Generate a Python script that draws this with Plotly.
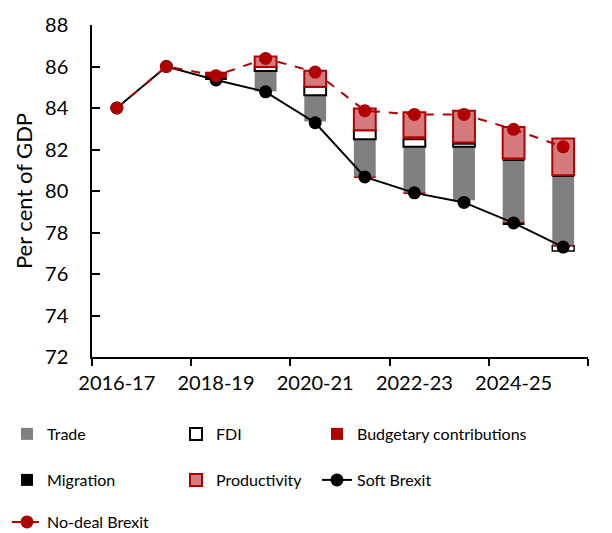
import plotly.graph_objects as go

years = ["2016-17", "2017-18", "2018-19", "2019-20", "2020-21",
         "2021-22", "2022-23", "2023-24", "2024-25", "2025-26"]
label_years = ["2016-17", "2018-19", "2020-21", "2022-23", "2024-25"]

soft_brexit = [84.0, 86.0, 85.35, 84.78, 83.29, 80.68, 79.91, 79.45, 78.46, 77.30]
no_deal = [84.0, 86.0, 85.56, 86.39, 85.73, 83.87, 83.69, 83.69, 82.97, 82.13]

# stacked decomposition (bottom of bar, then segment thicknesses in stack order)
bar_base = [0, 0, 85.35, 84.80, 83.35, 80.64, 79.88, 79.56, 78.38, 77.11]
fdi_low = [0, 0, 0, 0, 0, 0, 0, 0, 0, 0.25]
migration_low = [0, 0, 0, 0, 0, 0, 0, 0, 0.08, 0]
budget_low = [0, 0, 0, 0, 0, 0.05, 0.05, 0, 0.05, 0.04]
trade = [0, 0, 0, 0.98, 1.27, 1.80, 2.20, 2.57, 2.98, 3.30]
fdi = [0, 0, 0, 0.20, 0.40, 0.44, 0.36, 0.15, 0, 0]
migration = [0, 0, 0.10, 0, 0, 0, 0, 0.06, 0.03, 0.06]
budget = [0, 0, 0.30, 0, 0, 0, 0.10, 0, 0.05, 0]
productivity = [0, 0, 0, 0.50, 0.78, 1.05, 1.20, 1.53, 1.52, 1.77]

GRAY = "#808080"
DARKRED = "#b00000"
LIGHTRED = "#d57b7e"
FONT = "Lato"

xpos = list(range(len(years)))
cum = list(bar_base)

fig = go.Figure()

segments = [
    ("FDI", fdi_low, "white", "black", 1.5, None),
    ("Migration", migration_low, "black", "black", 0, None),
    ("Budgetary contributions", budget_low, DARKRED, DARKRED, 0, None),
    ("Trade", trade, GRAY, GRAY, 0, "legend"),
    ("FDI", fdi, "white", "black", 2, "legend2"),
    ("Migration", migration, "black", "black", 0, "legend4"),
    ("Budgetary contributions", budget, DARKRED, DARKRED, 0, "legend3"),
    ("Productivity", productivity, LIGHTRED, DARKRED, 2, "legend5"),
]

for name, vals, fill, line, lw, leg in segments:
    ys = [v if v > 0 else None for v in vals]
    bases = list(cum)
    fig.add_trace(go.Bar(
        x=xpos, y=ys, base=bases, name=name, width=0.44,
        marker=dict(color=fill, line=dict(color=line, width=lw)),
        showlegend=leg is not None, legend=leg if leg else "legend",
    ))
    cum = [c + v for c, v in zip(cum, vals)]

fig.add_trace(go.Scatter(
    x=xpos, y=soft_brexit, name="Soft Brexit", mode="lines+markers",
    line=dict(color="black", width=2), marker=dict(color="black", size=13),
    legend="legend6",
))
fig.add_trace(go.Scatter(
    x=xpos, y=no_deal, name="No-deal Brexit", mode="lines+markers",
    line=dict(color=DARKRED, width=2, dash="dash"), marker=dict(color=DARKRED, size=13),
    legend="legend7",
))
# helper trace for label axis
fig.add_trace(go.Scatter(x=[0], y=[None], xaxis="x2", showlegend=False, hoverinfo="skip"))

OFF = 8  # page body margin
L, R, T, B = 84, 24, 17, 176
W, H = 604, 525
pw, ph = W - L - R, H - T - B


def px(xp):
    return (xp - OFF - L) / pw


def py(yp):
    return (H - B - (yp - OFF)) / ph


leg_common = dict(orientation="h", font=dict(family=FONT, size=16, color="black"),
                  bgcolor="rgba(0,0,0,0)", xanchor="left", yanchor="middle")
legpos = {
    "legend": (7, 434), "legend2": (176, 434), "legend3": (317, 434),
    "legend4": (7, 480), "legend5": (176, 480), "legend6": (317, 480),
    "legend7": (7, 522),
}
legends = {k: dict(leg_common, x=px(v[0]), y=py(v[1])) for k, v in legpos.items()}

fig.update_layout(
    width=W, height=H,
    margin=dict(l=L, r=R, t=T, b=B, autoexpand=False),
    plot_bgcolor="white", paper_bgcolor="white",
    barmode="overlay",
    font=dict(family=FONT, size=19, color="black"),
    xaxis=dict(range=[-0.5, 9.5], tickvals=[-0.5, 1.5, 3.5, 5.5, 7.5, 9.5],
               showticklabels=False, ticks="outside", ticklen=7, tickwidth=1.5,
               tickcolor="black", showline=True, linecolor="black", linewidth=1.5,
               showgrid=False, zeroline=False, automargin=False),
    xaxis2=dict(overlaying="x", anchor="y", side="bottom", range=[-0.5, 9.5],
                tickvals=[0, 2, 4, 6, 8], ticktext=label_years,
                ticks="outside", ticklen=8, tickcolor="rgba(0,0,0,0)",
                showline=False, showgrid=False, zeroline=False, automargin=False,
                tickfont=dict(family=FONT, size=20, color="black")),
    yaxis=dict(range=[72, 88], dtick=2, ticks="inside", ticklen=8, tickwidth=1.5,
               tickcolor="black", showline=True, linecolor="black", linewidth=1.5,
               showgrid=False, zeroline=False, automargin=False, ticklabelstandoff=18,
               tickfont=dict(family=FONT, size=20, color="black"),
               title=dict(text="Per cent of GDP", font=dict(family=FONT, size=22, color="black"),
                          standoff=6)),
    showlegend=True,
    **legends,
)

fig.write_html("out.html")
